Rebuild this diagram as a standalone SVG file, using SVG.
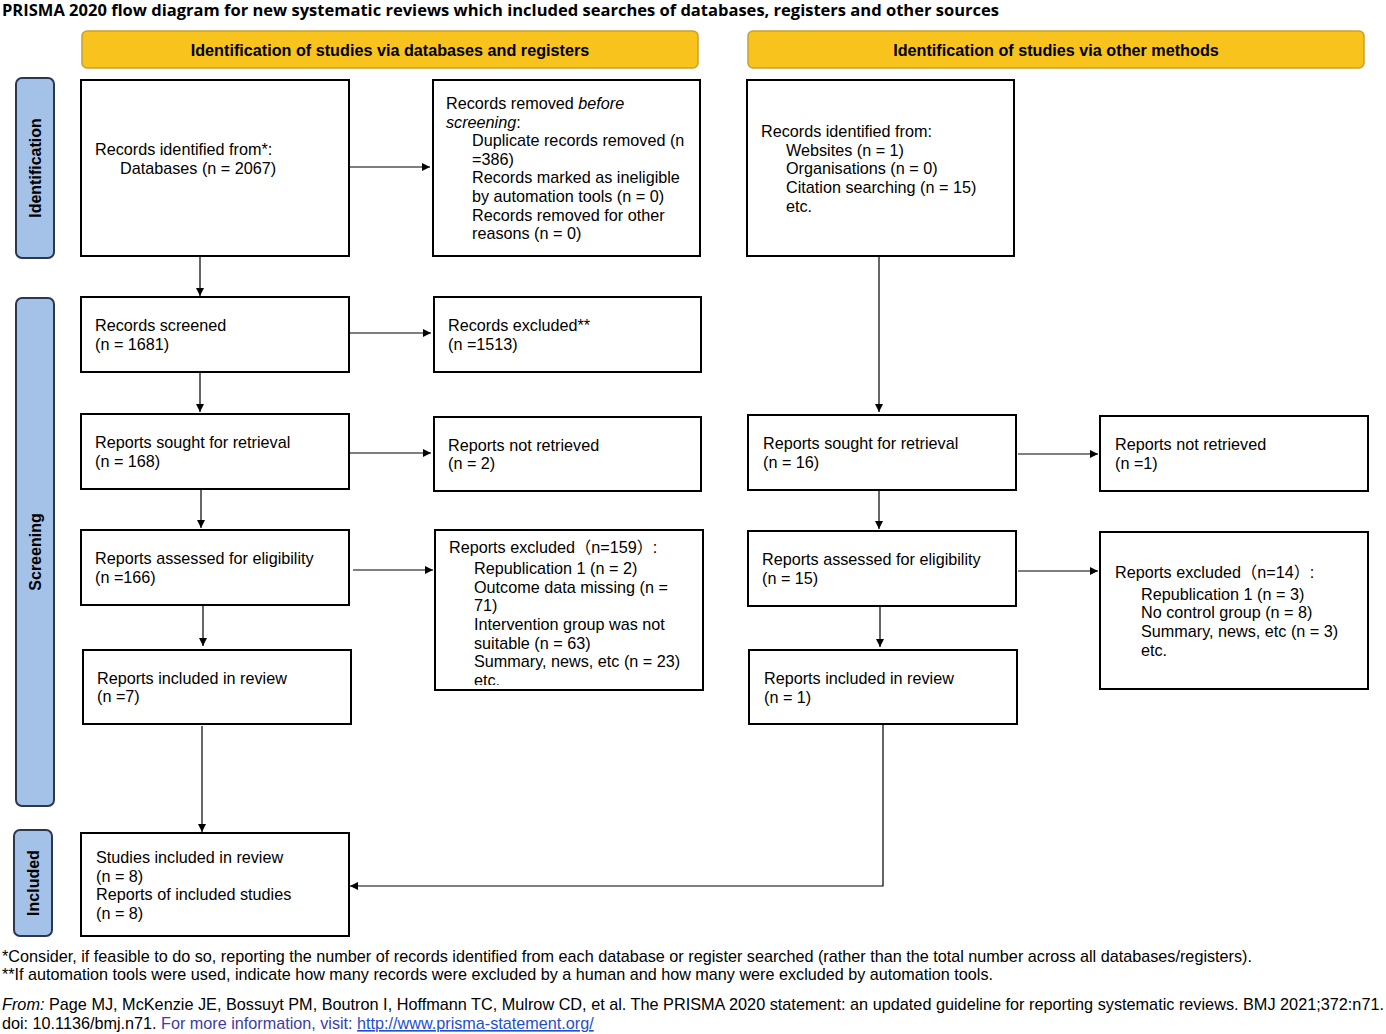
<svg xmlns="http://www.w3.org/2000/svg" width="1386" height="1034" viewBox="0 0 1386 1034">
<style>
.t{font-family:"Liberation Sans",Arial,sans-serif;font-size:16.2px;fill:#000}
.hd{font-family:"Liberation Sans",Arial,sans-serif;font-size:16.2px;font-weight:bold;fill:#000}
.side{font-family:"Liberation Sans",Arial,sans-serif;font-size:16px;font-weight:bold;fill:#000}
.box{fill:#fff;stroke:#000;stroke-width:2}
.hbar{fill:#F7C31C;stroke:#C9A030;stroke-width:1.5}
.sbar{fill:#A4C2E8;stroke:#2B3650;stroke-width:2}
.con{fill:none;stroke:#000;stroke-width:1.2}
.ft{font-family:"Liberation Sans",Arial,sans-serif;font-size:16.2px;fill:#000}
</style>
<defs>
<marker id="arr" viewBox="0 0 10 10" refX="10" refY="5" markerWidth="8" markerHeight="8" markerUnits="userSpaceOnUse" orient="auto">
<path d="M0,0 L10,5 L0,10 z" fill="#000"/>
</marker>
<clipPath id="clip9"><rect x="436" y="531" width="266" height="154"/></clipPath>
</defs>
<rect width="1386" height="1034" fill="#fff"/>
<text x="2" y="16" font-family="'Open Sans','Liberation Sans',sans-serif" font-weight="bold" font-size="16" textLength="997" lengthAdjust="spacingAndGlyphs">PRISMA 2020 flow diagram for new systematic reviews which included searches of databases, registers and other sources</text>

<g id="hdr-left"><rect class="hbar" x="82" y="31" width="616" height="37" rx="5"/><text class="hd" x="390" y="56" text-anchor="middle">Identification of studies via databases and registers</text></g>
<g id="hdr-right"><rect class="hbar" x="748" y="31" width="616" height="37" rx="5"/><text class="hd" x="1056" y="56" text-anchor="middle">Identification of studies via other methods</text></g>

<g id="side-identification"><rect class="sbar" x="16" y="78" width="38" height="180" rx="6"/><text class="side" transform="translate(41,168) rotate(-90)" text-anchor="middle">Identification</text></g>
<g id="side-screening"><rect class="sbar" x="16" y="298" width="38" height="508" rx="6"/><text class="side" transform="translate(41,552) rotate(-90)" text-anchor="middle">Screening</text></g>
<g id="side-included"><rect class="sbar" x="14" y="830" width="38" height="106" rx="6"/><text class="side" transform="translate(39,883) rotate(-90)" text-anchor="middle">Included</text></g>

<g id="n-records-identified"><rect class="box" x="81" y="80" width="268" height="176"/>
<text class="t" x="95" y="155">Records identified from*:</text>
<text class="t" x="120" y="174">Databases (n = 2067)</text></g>

<g id="n-records-removed"><rect class="box" x="433" y="80" width="267" height="176"/>
<text class="t" x="446" y="109">Records removed <tspan font-style="italic">before</tspan></text>
<text class="t" x="446" y="128"><tspan font-style="italic">screening</tspan>:</text>
<text class="t" x="472" y="146">Duplicate records removed (n</text>
<text class="t" x="472" y="165">=386)</text>
<text class="t" x="472" y="183">Records marked as ineligible</text>
<text class="t" x="472" y="202">by automation tools (n = 0)</text>
<text class="t" x="472" y="221">Records removed for other</text>
<text class="t" x="472" y="239">reasons (n = 0)</text></g>

<g id="n-other-identified"><rect class="box" x="747" y="80" width="267" height="176"/>
<text class="t" x="761" y="137">Records identified from:</text>
<text class="t" x="786" y="156">Websites (n = 1)</text>
<text class="t" x="786" y="174">Organisations (n = 0)</text>
<text class="t" x="786" y="193">Citation searching (n = 15)</text>
<text class="t" x="786" y="212">etc.</text></g>

<g id="n-screened"><rect class="box" x="81" y="297" width="268" height="75"/>
<text class="t" x="95" y="331">Records screened</text>
<text class="t" x="95" y="350">(n = 1681)</text></g>

<g id="n-excluded"><rect class="box" x="434" y="297" width="267" height="75"/>
<text class="t" x="448" y="331">Records excluded**</text>
<text class="t" x="448" y="350">(n =1513)</text></g>

<g id="n-sought-left"><rect class="box" x="81" y="414" width="268" height="75"/>
<text class="t" x="95" y="448">Reports sought for retrieval</text>
<text class="t" x="95" y="467">(n = 168)</text></g>

<g id="n-notretrieved-left"><rect class="box" x="434" y="417" width="267" height="74"/>
<text class="t" x="448" y="451">Reports not retrieved</text>
<text class="t" x="448" y="469">(n = 2)</text></g>

<g id="n-assessed-left"><rect class="box" x="81" y="530" width="268" height="75"/>
<text class="t" x="95" y="564">Reports assessed for eligibility</text>
<text class="t" x="95" y="583">(n =166)</text></g>

<g id="n-reportsexcluded-left"><rect class="box" x="435" y="530" width="268" height="160"/>
<g clip-path="url(#clip9)">
<text class="t" x="449" y="553">Reports excluded<tspan font-family="'Noto Sans CJK SC',sans-serif">（</tspan>n=159<tspan font-family="'Noto Sans CJK SC',sans-serif">）</tspan>:</text>
<text class="t" x="474" y="574">Republication 1 (n = 2)</text>
<text class="t" x="474" y="593">Outcome data missing (n =</text>
<text class="t" x="474" y="611">71)</text>
<text class="t" x="474" y="630">Intervention group was not</text>
<text class="t" x="474" y="649">suitable (n = 63)</text>
<text class="t" x="474" y="667">Summary, news, etc (n = 23)</text>
<text class="t" x="474" y="686">etc.</text></g></g>

<g id="n-included-left"><rect class="box" x="83" y="650" width="268" height="74"/>
<text class="t" x="97" y="684">Reports included in review</text>
<text class="t" x="97" y="702">(n =7)</text></g>

<g id="n-studies-included"><rect class="box" x="81" y="833" width="268" height="103"/>
<text class="t" x="96" y="863">Studies included in review</text>
<text class="t" x="96" y="882">(n = 8)</text>
<text class="t" x="96" y="900">Reports of included studies</text>
<text class="t" x="96" y="919">(n = 8)</text></g>

<g id="n-sought-right"><rect class="box" x="748" y="415" width="268" height="75"/>
<text class="t" x="763" y="449">Reports sought for retrieval</text>
<text class="t" x="763" y="468">(n = 16)</text></g>

<g id="n-notretrieved-right"><rect class="box" x="1100" y="416" width="268" height="75"/>
<text class="t" x="1115" y="450">Reports not retrieved</text>
<text class="t" x="1115" y="469">(n =1)</text></g>

<g id="n-assessed-right"><rect class="box" x="748" y="531" width="268" height="75"/>
<text class="t" x="762" y="565">Reports assessed for eligibility</text>
<text class="t" x="762" y="584">(n = 15)</text></g>

<g id="n-reportsexcluded-right"><rect class="box" x="1100" y="532" width="268" height="157"/>
<text class="t" x="1115" y="578">Reports excluded<tspan font-family="'Noto Sans CJK SC',sans-serif">（</tspan>n=14<tspan font-family="'Noto Sans CJK SC',sans-serif">）</tspan>:</text>
<text class="t" x="1141" y="600">Republication 1 (n = 3)</text>
<text class="t" x="1141" y="618">No control group (n = 8)</text>
<text class="t" x="1141" y="637">Summary, news, etc (n = 3)</text>
<text class="t" x="1141" y="656">etc.</text></g>

<g id="n-included-right"><rect class="box" x="749" y="650" width="268" height="74"/>
<text class="t" x="764" y="684">Reports included in review</text>
<text class="t" x="764" y="703">(n = 1)</text></g>

<g id="connectors">
<path class="con" d="M200,256 V296" marker-end="url(#arr)"/>
<path class="con" d="M349,167 H430" marker-end="url(#arr)"/>
<path class="con" d="M200,372 V412" marker-end="url(#arr)"/>
<path class="con" d="M349,333 H431" marker-end="url(#arr)"/>
<path class="con" d="M201,489 V528" marker-end="url(#arr)"/>
<path class="con" d="M350,453 H431" marker-end="url(#arr)"/>
<path class="con" d="M203,605 V646" marker-end="url(#arr)"/>
<path class="con" d="M353,570 H433" marker-end="url(#arr)"/>
<path class="con" d="M202,726 V832" marker-end="url(#arr)"/>
<path class="con" d="M879,256 V412" marker-end="url(#arr)"/>
<path class="con" d="M1018,454 H1098" marker-end="url(#arr)"/>
<path class="con" d="M879,490 V529" marker-end="url(#arr)"/>
<path class="con" d="M1018,571 H1098" marker-end="url(#arr)"/>
<path class="con" d="M880,606 V647" marker-end="url(#arr)"/>
<path class="con" d="M883,724 V886 H350" marker-end="url(#arr)"/>
</g>

<g id="footer">
<text class="ft" x="2" y="962" textLength="1250" lengthAdjust="spacingAndGlyphs">*Consider, if feasible to do so, reporting the number of records identified from each database or register searched (rather than the total number across all databases/registers).</text>
<text class="ft" x="2" y="980" textLength="991" lengthAdjust="spacingAndGlyphs">**If automation tools were used, indicate how many records were excluded by a human and how many were excluded by automation tools.</text>
<text class="ft" x="2" y="1010" textLength="1382" lengthAdjust="spacingAndGlyphs"><tspan font-style="italic">From:</tspan>  Page MJ, McKenzie JE, Bossuyt PM, Boutron I, Hoffmann TC, Mulrow CD, et al. The PRISMA 2020 statement: an updated guideline for reporting systematic reviews. BMJ 2021;372:n71.</text>
<text class="ft" x="2" y="1029">doi: 10.1136/bmj.n71. <tspan fill="#3C3CA8">For more information, visit: </tspan><tspan fill="#1F4FD0" text-decoration="underline">http://www.prisma-statement.org/</tspan></text>
</g>
</svg>
